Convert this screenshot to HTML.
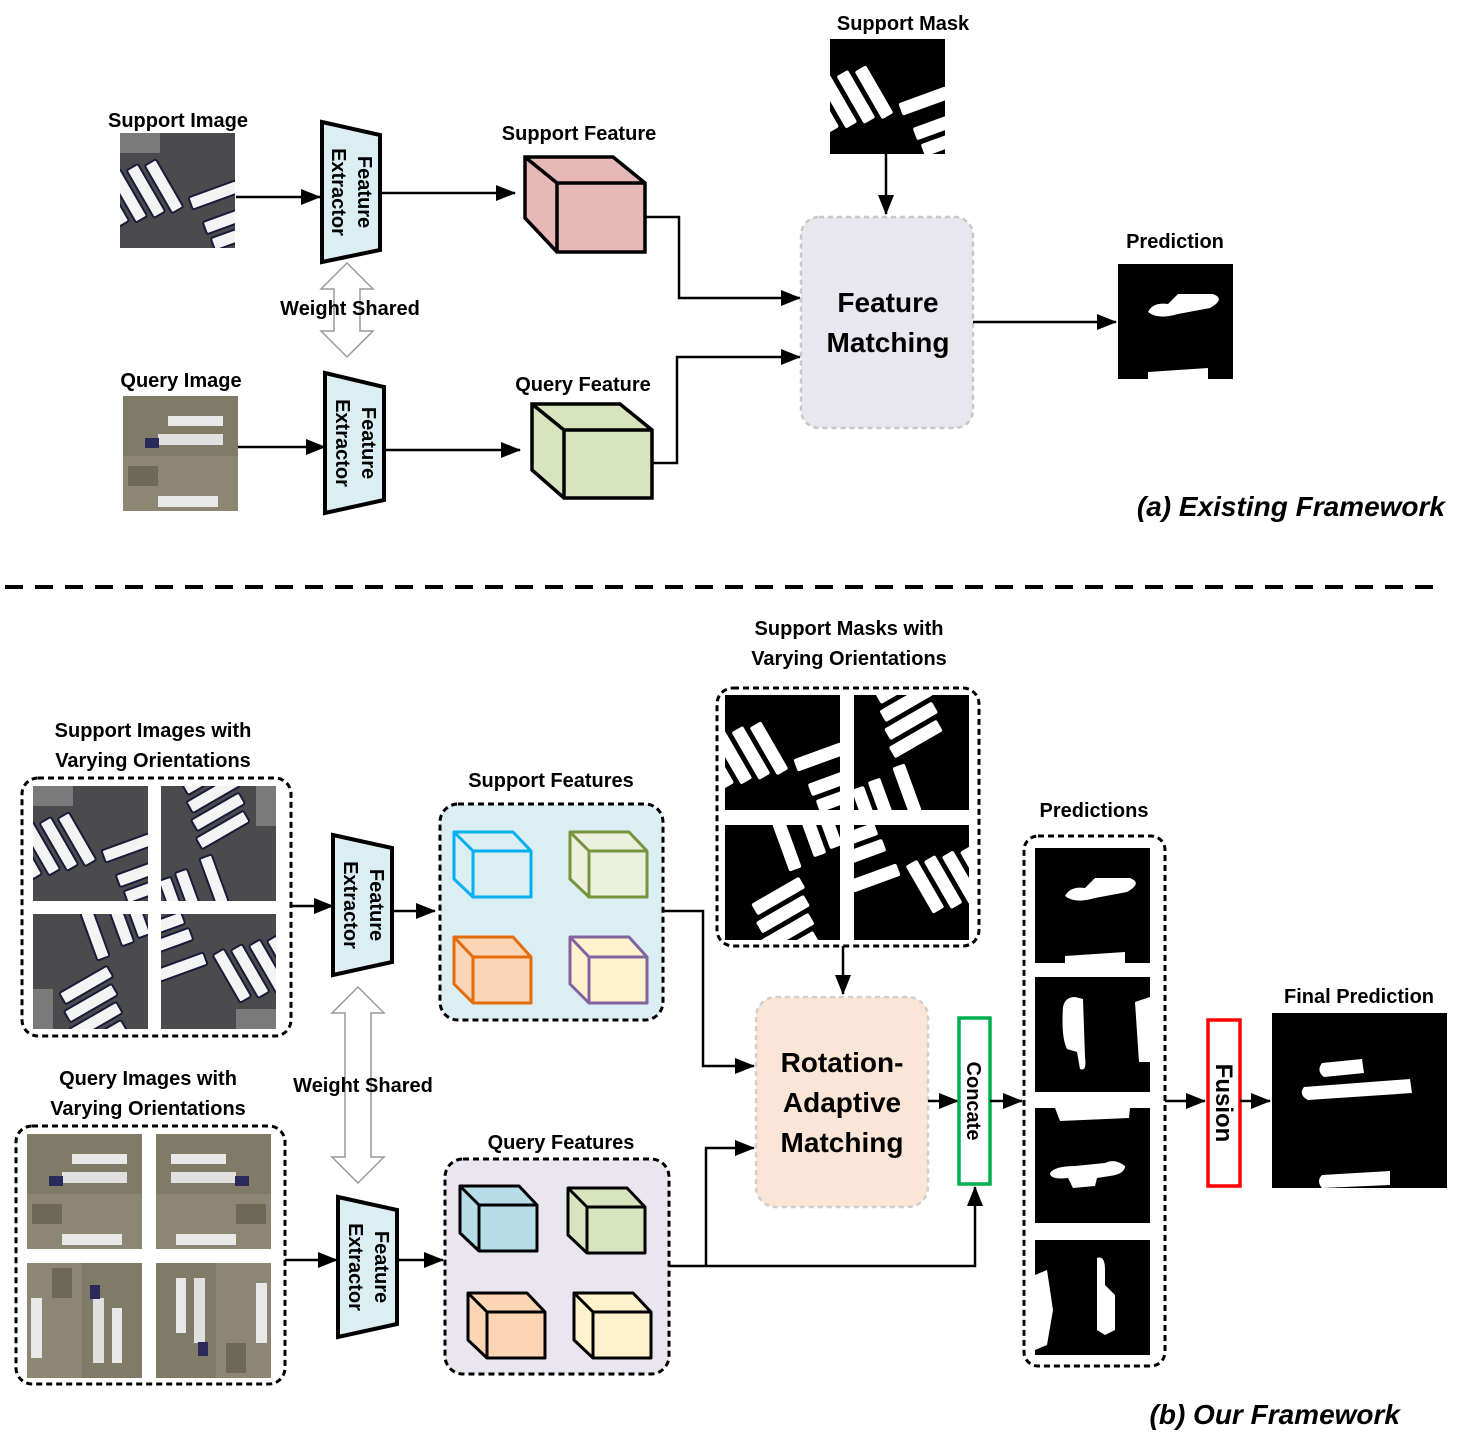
<!DOCTYPE html>
<html><head><meta charset="utf-8"><style>
html,body{margin:0;padding:0;background:#fff}
svg{display:block}
text{font-family:"Liberation Sans",sans-serif;font-weight:bold;fill:#000}
</style></head><body>
<svg width="1465" height="1450" viewBox="0 0 1465 1450" xmlns="http://www.w3.org/2000/svg">
<defs>
<marker id="ah" markerWidth="20" markerHeight="16" refX="19" refY="8" orient="auto" markerUnits="userSpaceOnUse">
<path d="M0,0 L20,8 L0,16 z" fill="#000"/></marker>
<g id="bars">
 <g transform="rotate(-30 30 70)">
  <rect x="8" y="25" width="13" height="55" rx="2"/>
  <rect x="26" y="30" width="13" height="55" rx="2"/>
  <rect x="44" y="35" width="13" height="55" rx="2"/>
  <rect x="-10" y="20" width="13" height="55" rx="2"/>
 </g>
 <g transform="rotate(-20 90 80)">
  <rect x="75" y="58" width="50" height="13" rx="2"/>
  <rect x="80" y="86" width="50" height="13" rx="2"/>
  <rect x="82" y="104" width="50" height="13" rx="2"/>
 </g>
</g>
<clipPath id="c115"><rect width="115" height="115"/></clipPath>
<g id="simg" clip-path="url(#c115)">
 <rect width="115" height="115" fill="#4b4b4e"/>
 <rect width="40" height="20" fill="#7a7a7a"/>
 <g fill="#f4f4f4" stroke="#1a1a3a" stroke-width="2"><use href="#bars"/></g>
</g>
<g id="mimg" clip-path="url(#c115)">
 <rect width="115" height="115" fill="#000"/>
 <g fill="#fff"><use href="#bars"/></g>
</g>
<g id="qimg" clip-path="url(#c115)">
 <rect width="115" height="115" fill="#807b66"/>
 <rect x="0" y="60" width="115" height="55" fill="#8c8672"/>
 <rect x="45" y="20" width="55" height="10" fill="#e8e8e8"/>
 <rect x="35" y="38" width="65" height="11" fill="#e0e0e0"/>
 <rect x="22" y="42" width="14" height="10" fill="#2a2a5a"/>
 <rect x="35" y="100" width="60" height="11" fill="#e8e8e8"/>
 <rect x="5" y="70" width="30" height="20" fill="#6d6858"/>
</g>
<g id="pred">
 <rect width="115" height="115" fill="#000"/>
 <path d="M30,48 Q35,38 50,40 L60,30 L95,30 Q108,35 92,44 L60,50 Q40,56 30,48z" fill="#fff"/>
 <path d="M30,108 L90,104 L90,115 L30,115z" fill="#fff"/>
</g>
</defs>

<!-- (a) -->
<text x="178" y="127" font-size="20" text-anchor="middle">Support Image</text>
<use href="#simg" x="120" y="133"/>
<line x1="236" y1="197" x2="320" y2="197" stroke="#000" stroke-width="2.5" marker-end="url(#ah)"/>
<polygon points="322,122 380,135 380,250 322,262" fill="#dbeef4" stroke="#000" stroke-width="4"/>
<text transform="translate(358,192) rotate(90)" font-size="20" text-anchor="middle" font-weight="normal">Feature</text>
<text transform="translate(332,192) rotate(90)" font-size="20" text-anchor="middle" font-weight="normal">Extractor</text>
<line x1="380" y1="193" x2="515" y2="193" stroke="#000" stroke-width="2.5" marker-end="url(#ah)"/>
<text x="579" y="140" font-size="20" text-anchor="middle">Support Feature</text>
<path d="M525,157 L613,157 L645,183 L645,252 L557,252 L525,218 Z" fill="#e6b8b7" stroke="#000" stroke-width="3.5"/>
<path d="M525,157 L557,183 L645,183 M557,183 L557,252" fill="none" stroke="#000" stroke-width="3.5"/>
<polyline points="645,217 679,217 679,298 800,298" fill="none" stroke="#000" stroke-width="2.5" marker-end="url(#ah)"/>
<path d="M347,263 L373,289 L360,289 L360,331 L373,331 L347,357 L321,331 L334,331 L334,289 L321,289 Z" fill="#fff" stroke="#999" stroke-width="1.5"/>
<text x="350" y="315" font-size="20" text-anchor="middle">Weight Shared</text>
<text x="181" y="387" font-size="20" text-anchor="middle">Query Image</text>
<use href="#qimg" x="123" y="396"/>
<line x1="238" y1="447" x2="325" y2="447" stroke="#000" stroke-width="2.5" marker-end="url(#ah)"/>
<polygon points="325,373 384,387 384,500 325,513" fill="#dbeef4" stroke="#000" stroke-width="4"/>
<text transform="translate(362,443) rotate(90)" font-size="20" text-anchor="middle" font-weight="normal">Feature</text>
<text transform="translate(336,443) rotate(90)" font-size="20" text-anchor="middle" font-weight="normal">Extractor</text>
<line x1="384" y1="450" x2="520" y2="450" stroke="#000" stroke-width="2.5" marker-end="url(#ah)"/>
<text x="583" y="391" font-size="20" text-anchor="middle">Query Feature</text>
<path d="M532,404 L620,404 L652,430 L652,498 L564,498 L532,470 Z" fill="#d7e4bd" stroke="#000" stroke-width="3.5"/>
<path d="M532,404 L564,430 L652,430 M564,430 L564,498" fill="none" stroke="#000" stroke-width="3.5"/>
<polyline points="652,463 677,463 677,357 800,357" fill="none" stroke="#000" stroke-width="2.5" marker-end="url(#ah)"/>
<text x="903" y="30" font-size="20" text-anchor="middle">Support Mask</text>
<use href="#mimg" x="830" y="39"/>
<line x1="886" y1="154" x2="886" y2="214" stroke="#000" stroke-width="2.5" marker-end="url(#ah)"/>
<rect x="801" y="217" width="172" height="211" rx="18" fill="#e8e6ef" stroke="#c8c8c8" stroke-width="2.5" stroke-dasharray="5 4"/>
<text x="888" y="312" font-size="28" text-anchor="middle" font-weight="normal">Feature</text>
<text x="888" y="352" font-size="28" text-anchor="middle" font-weight="normal">Matching</text>
<line x1="973" y1="322" x2="1116" y2="322" stroke="#000" stroke-width="2.5" marker-end="url(#ah)"/>
<text x="1175" y="248" font-size="20" text-anchor="middle">Prediction</text>
<use href="#pred" x="1118" y="264"/>
<text x="1445" y="516" font-size="28" text-anchor="end" font-style="italic" font-weight="normal">(a) Existing Framework</text>

<line x1="5" y1="587" x2="1440" y2="587" stroke="#000" stroke-width="4" stroke-dasharray="18 12"/>

<!-- (b) -->
<text x="849" y="635" font-size="20" text-anchor="middle">Support Masks with</text>
<text x="849" y="665" font-size="20" text-anchor="middle">Varying Orientations</text>
<rect x="717" y="688" width="262" height="258" rx="16" fill="none" stroke="#000" stroke-width="3" stroke-dasharray="6 4"/>
<use href="#mimg" x="725" y="695"/>
<use href="#mimg" transform="rotate(90 911.5 752.5)" x="854" y="695"/>
<use href="#mimg" transform="rotate(-90 782.5 882.5)" x="725" y="825"/>
<use href="#mimg" transform="rotate(180 911.5 882.5)" x="854" y="825"/>
<line x1="843" y1="946" x2="843" y2="994" stroke="#000" stroke-width="2.5" marker-end="url(#ah)"/>

<text x="153" y="737" font-size="20" text-anchor="middle">Support Images with</text>
<text x="153" y="767" font-size="20" text-anchor="middle">Varying Orientations</text>
<rect x="22" y="778" width="269" height="258" rx="16" fill="none" stroke="#000" stroke-width="3" stroke-dasharray="6 4"/>
<use href="#simg" x="33" y="786"/>
<use href="#simg" transform="rotate(90 218.5 843.5)" x="161" y="786"/>
<use href="#simg" transform="rotate(-90 90.5 971.5)" x="33" y="914"/>
<use href="#simg" transform="rotate(180 218.5 971.5)" x="161" y="914"/>
<line x1="291" y1="906" x2="333" y2="906" stroke="#000" stroke-width="2.5" marker-end="url(#ah)"/>
<polygon points="333,835 392,848 392,962 333,975" fill="#dbeef4" stroke="#000" stroke-width="4"/>
<text transform="translate(370,905) rotate(90)" font-size="20" text-anchor="middle" font-weight="normal">Feature</text>
<text transform="translate(344,905) rotate(90)" font-size="20" text-anchor="middle" font-weight="normal">Extractor</text>
<line x1="392" y1="911" x2="435" y2="911" stroke="#000" stroke-width="2.5" marker-end="url(#ah)"/>
<text x="551" y="787" font-size="20" text-anchor="middle">Support Features</text>
<rect x="440" y="804" width="223" height="216" rx="18" fill="#dbeef4" stroke="#000" stroke-width="3" stroke-dasharray="6 4"/>
<g stroke-width="3" stroke-linejoin="round">
<path d="M454,832 L513,832 L531,851 L531,897 L473,897 L454,879 Z" fill="#dbeef4" stroke="#00b0f0"/>
<path d="M454,832 L473,851 L531,851 M473,851 L473,897" fill="none" stroke="#00b0f0"/>
<path d="M570,832 L629,832 L647,851 L647,897 L589,897 L570,879 Z" fill="#ebf1de" stroke="#77933c"/>
<path d="M570,832 L589,851 L647,851 M589,851 L589,897" fill="none" stroke="#77933c"/>
<path d="M454,937 L513,937 L531,957 L531,1003 L473,1003 L454,984 Z" fill="#fad5b8" stroke="#e46c0a"/>
<path d="M454,937 L473,957 L531,957 M473,957 L473,1003" fill="none" stroke="#e46c0a"/>
<path d="M570,937 L629,937 L647,957 L647,1003 L589,1003 L570,984 Z" fill="#fff2cc" stroke="#8064a2"/>
<path d="M570,937 L589,957 L647,957 M589,957 L589,1003" fill="none" stroke="#8064a2"/>
</g>
<polyline points="663,911 703,911 703,1066 754,1066" fill="none" stroke="#000" stroke-width="2.5" marker-end="url(#ah)"/>
<path d="M358,987 L384,1013 L371,1013 L371,1157 L384,1157 L358,1183 L332,1157 L345,1157 L345,1013 L332,1013 Z" fill="#fff" stroke="#999" stroke-width="1.5"/>
<text x="363" y="1092" font-size="20" text-anchor="middle">Weight Shared</text>

<text x="148" y="1085" font-size="20" text-anchor="middle">Query Images with</text>
<text x="148" y="1115" font-size="20" text-anchor="middle">Varying Orientations</text>
<rect x="16" y="1126" width="269" height="258" rx="16" fill="none" stroke="#000" stroke-width="3" stroke-dasharray="6 4"/>
<use href="#qimg" x="27" y="1134"/>
<use href="#qimg" transform="translate(271,1134) scale(-1,1)"/>
<use href="#qimg" transform="rotate(90 84.5 1320.5)" x="27" y="1263"/>
<use href="#qimg" transform="rotate(-90 213.5 1320.5)" x="156" y="1263"/>
<line x1="285" y1="1260" x2="337" y2="1260" stroke="#000" stroke-width="2.5" marker-end="url(#ah)"/>
<polygon points="338,1197 397,1210 397,1324 338,1337" fill="#dbeef4" stroke="#000" stroke-width="4"/>
<text transform="translate(375,1267) rotate(90)" font-size="20" text-anchor="middle" font-weight="normal">Feature</text>
<text transform="translate(349,1267) rotate(90)" font-size="20" text-anchor="middle" font-weight="normal">Extractor</text>
<line x1="397" y1="1260" x2="443" y2="1260" stroke="#000" stroke-width="2.5" marker-end="url(#ah)"/>
<text x="561" y="1149" font-size="20" text-anchor="middle">Query Features</text>
<rect x="445" y="1159" width="224" height="215" rx="18" fill="#e9e6ef" stroke="#000" stroke-width="3" stroke-dasharray="6 4"/>
<g stroke="#000" stroke-width="3" stroke-linejoin="round">
<path d="M460,1186 L519,1186 L537,1205 L537,1251 L479,1251 L460,1233 Z" fill="#b7dde8"/>
<path d="M460,1186 L479,1205 L537,1205 M479,1205 L479,1251" fill="none"/>
<path d="M568,1188 L627,1188 L645,1207 L645,1253 L587,1253 L568,1235 Z" fill="#d7e4bd"/>
<path d="M568,1188 L587,1207 L645,1207 M587,1207 L587,1253" fill="none"/>
<path d="M468,1293 L527,1293 L545,1312 L545,1358 L487,1358 L468,1340 Z" fill="#fcd5b5"/>
<path d="M468,1293 L487,1312 L545,1312 M487,1312 L487,1358" fill="none"/>
<path d="M574,1293 L633,1293 L651,1312 L651,1358 L593,1358 L574,1340 Z" fill="#fff2cc"/>
<path d="M574,1293 L593,1312 L651,1312 M593,1312 L593,1358" fill="none"/>
</g>
<polyline points="669,1266 975,1266 975,1187" fill="none" stroke="#000" stroke-width="2.5" marker-end="url(#ah)"/>
<polyline points="706,1266 706,1148 754,1148" fill="none" stroke="#000" stroke-width="2.5" marker-end="url(#ah)"/>
<rect x="756" y="997" width="172" height="210" rx="20" fill="#fbe5d6" stroke="#cfcfcf" stroke-width="2.5" stroke-dasharray="5 4"/>
<text x="842" y="1072" font-size="28" text-anchor="middle">Rotation-</text>
<text x="842" y="1112" font-size="28" text-anchor="middle">Adaptive</text>
<text x="842" y="1152" font-size="28" text-anchor="middle">Matching</text>
<line x1="928" y1="1101" x2="958" y2="1101" stroke="#000" stroke-width="2.5" marker-end="url(#ah)"/>
<rect x="959" y="1018" width="31" height="166" fill="#fff" stroke="#00b050" stroke-width="3.5"/>
<text transform="translate(967,1101) rotate(90)" font-size="20" text-anchor="middle" font-weight="normal">Concate</text>
<line x1="990" y1="1101" x2="1022" y2="1101" stroke="#000" stroke-width="2.5" marker-end="url(#ah)"/>
<text x="1094" y="817" font-size="20" text-anchor="middle">Predictions</text>
<rect x="1024" y="836" width="141" height="530" rx="14" fill="none" stroke="#000" stroke-width="3" stroke-dasharray="6 4"/>
<use href="#pred" x="1035" y="848"/>
<g transform="translate(1035,977)"><rect width="115" height="115" fill="#000"/><path d="M28,30 Q30,20 40,20 L48,22 L50,80 Q52,95 45,92 L42,75 L32,72 Q26,60 28,30z M100,25 L115,20 L115,85 L104,85 z" fill="#fff"/></g>
<g transform="translate(1035,1108)"><rect width="115" height="115" fill="#000"/><path d="M20,0 L95,0 L94,10 L25,13z M15,65 Q20,58 40,58 L70,55 Q80,50 90,58 Q90,66 75,68 L62,70 L60,78 L38,80 L33,70 Q15,72 15,65z" fill="#fff"/></g>
<g transform="translate(1035,1240)"><rect width="115" height="115" fill="#000"/><path d="M62,18 Q70,15 70,30 L70,45 L80,55 L80,90 L70,95 L62,90 Z M0,35 L12,30 L18,70 L12,105 L0,110z" fill="#fff"/></g>
<line x1="1165" y1="1101" x2="1205" y2="1101" stroke="#000" stroke-width="2.5" marker-end="url(#ah)"/>
<rect x="1208" y="1020" width="32" height="166" fill="#fff" stroke="#ff0000" stroke-width="3.5"/>
<text transform="translate(1216,1103) rotate(90)" font-size="24" text-anchor="middle" font-weight="normal">Fusion</text>
<line x1="1240" y1="1101" x2="1270" y2="1101" stroke="#000" stroke-width="2.5" marker-end="url(#ah)"/>
<text x="1359" y="1003" font-size="20" text-anchor="middle">Final Prediction</text>
<g transform="translate(1272,1013)"><rect width="175" height="175" fill="#000"/><path d="M50,50 L90,46 L92,60 L52,64 Q44,58 50,50z M32,74 L138,66 L140,80 L36,87 Q26,82 32,74z M50,162 L118,158 L118,172 L50,175 Q44,168 50,162z" fill="#fff"/></g>
<text x="1400" y="1424" font-size="28" text-anchor="end" font-style="italic" font-weight="normal">(b) Our Framework</text>
</svg>
</body></html>
